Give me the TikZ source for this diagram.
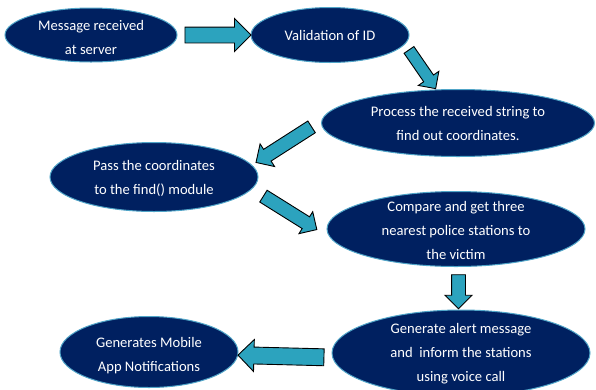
\documentclass[tikz,border=0pt]{standalone}
\usepackage{fontspec}
\setmainfont{Carlito}
\usetikzlibrary{shapes.geometric,shapes.arrows}

\definecolor{navyfill}{RGB}{0,32,96}
\definecolor{rimteal}{RGB}{80,165,200}
\definecolor{arrowteal}{RGB}{44,163,190}

\tikzset{
  stepoval/.style={ellipse, draw=rimteal, line width=1pt, fill=navyfill, inner sep=0pt},
  steptext/.style={text=white, align=center, inner sep=0pt, font=\fontsize{14.6}{24}\selectfont},
  fatarrow/.style={single arrow, draw=black, fill=arrowteal, line width=0.9pt,
    inner xsep=0pt, text height=0pt, text depth=0pt}
}

\begin{document}
\begin{tikzpicture}[x=1pt, y=-1pt]
    \useasboundingbox (0, 0) rectangle (596, 389);

    % the steps
    \node [stepoval, minimum width=172pt, minimum height=54pt,
      label={[steptext, yshift=-2pt]center:Message received\\at server}] (msg) at (91, 35) {};
    \node [stepoval, minimum width=158pt, minimum height=55pt,
      label={[steptext]center:Validation of ID}] (valid) at (330, 35) {};
    \node [stepoval, minimum width=273pt, minimum height=67pt,
      label={[steptext]center:Process the received string to\\find out coordinates.}] (proc) at (458, 123) {};
    \node [stepoval, minimum width=208pt, minimum height=69pt,
      label={[steptext, yshift=-1pt]center:Pass the coordinates\\to the find() module}] (pass) at (154, 177) {};
    \node [stepoval, minimum width=258pt, minimum height=75pt,
      label={[steptext, yshift=-1pt]center:Compare and get three\\nearest police stations to\\the victim}] (comp) at (456, 229) {};
    \node [stepoval, minimum width=258pt, minimum height=86pt,
      label={[steptext, yshift=-1pt]center:Generate alert message\\and\ \ inform the stations\\using voice call}] (alert) at (461, 353) {};
    \node [stepoval, minimum width=178pt, minimum height=71pt,
      label={[steptext, yshift=-4pt]center:Generates Mobile\\App Notifications}] (notif) at (149, 352) {};

    % the arrows between them
    \path (msg.east) -- (valid.west) node [midway, sloped, fatarrow,
      minimum height=66pt, inner ysep=7.5pt, single arrow head extend=8.5pt] {};
    \path (valid.-7) -- (proc.123) node [midway, sloped, fatarrow,
      minimum height=47pt, inner ysep=5.5pt, single arrow head extend=6.5pt] {};
    \path (proc.179) -- (pass.7) node [midway, sloped, allow upside down, fatarrow,
      minimum height=66pt, inner ysep=6.5pt, single arrow head extend=6.5pt] {};
    \path (pass.-7) -- (comp.184) node [pos=0.45, sloped, fatarrow,
      minimum height=63pt, inner ysep=6.5pt, single arrow head extend=6pt] {};
    \path (comp.south) -- (alert.north) node [midway, rotate=-90, fatarrow,
      minimum height=34pt, inner ysep=6.5pt, single arrow head extend=6.5pt] {};
    \path (alert.182) -- (notif.-2) node [midway, sloped, allow upside down, fatarrow,
      minimum height=86pt, inner ysep=8pt, single arrow head extend=7.5pt] {};
\end{tikzpicture}
\end{document}
